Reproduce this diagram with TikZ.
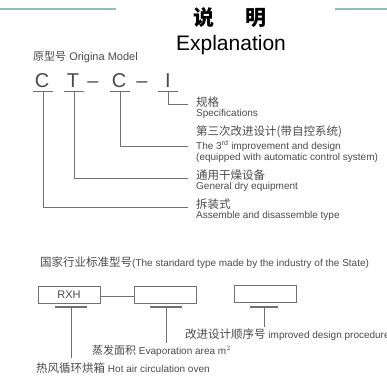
\documentclass[tikz,border=0pt]{standalone}
\usepackage{fontspec}
\setmainfont{Liberation Sans}
\newfontfamily\cjk{Noto Sans CJK SC}
\definecolor{txt}{HTML}{4A4A4A}
\definecolor{ln}{HTML}{707070}
\definecolor{teal}{HTML}{8DBDC1}
\begin{document}
\begin{tikzpicture}[x=1pt,y=-1pt,
  lbl/.style={inner sep=0pt,anchor=west,text=txt},
  zh/.style={lbl,font=\cjk\fontsize{11.5}{13}\selectfont},
  en/.style={lbl,font=\fontsize{10}{12}\selectfont},
  zhin/.style={font=\cjk\fontsize{11.5}{13}\selectfont},
  big/.style={inner sep=0pt,anchor=base,text=txt,font=\fontsize{20}{22}\selectfont},
  uline/.style={draw=ln,line width=1.3pt},
  conn/.style={draw=ln,line width=0.8pt},
  box/.style={draw=ln,line width=1pt,minimum width=62pt,minimum height=17pt,inner sep=0pt}]
\useasboundingbox (0,0) rectangle (387,375);
% top decorative lines
\draw[teal,line width=2pt] (0,9) -- (116,9);
\draw[teal,line width=2pt] (335,9) -- (387,9);
% title
\node[inner sep=0pt,text=black,font=\cjk\bfseries\fontsize{21}{24}\selectfont] (t1) at (230,18) {说\hspace{1.45em}明};
\node[inner sep=0pt,text=black,font=\fontsize{21}{24}\selectfont] (t2) at (231,45) {Explanation};
\node[lbl,font=\fontsize{11}{13}\selectfont] (om) at (33,57) {{\cjk 原型号} Origina Model};
% model letters
\node[big] (c1) at (42,87) {C};
\node[big] (tt) at (73,87) {T};
\node[big] (d1) at (93,87) {–};
\node[big] (c2) at (119,87) {C};
\node[big] (d2) at (142,87) {–};
\node[big] (ii) at (168,87) {I};
% underlines
\coordinate (u1) at (43,91.5); \coordinate (u2) at (74,91.5); \coordinate (u3) at (120,91.5); \coordinate (u4) at (168,91.5);
\draw[uline] ([xshift=-10pt]u1) -- ([xshift=10pt]u1);
\draw[uline] ([xshift=-10pt]u2) -- ([xshift=10pt]u2);
\draw[uline] ([xshift=-10pt]u3) -- ([xshift=10pt]u3);
\draw[uline] ([xshift=-10pt]u4) -- ([xshift=10pt]u4);
% labels
\node[zh] (l1a) at (196,102) {规格};
\node[en] (l1b) at (196,114) {Specifications};
\node[zh] (l2a) at (196,132) {第三次改进设计(带自控系统)};
\node[en] (l2b) at (196,146) {The 3$^{\mathrm{rd}}$ improvement and design};
\node[en] (l2c) at (196,158) {(equipped with automatic control system)};
\node[zh] (l3a) at (196,175) {通用干燥设备};
\node[en] (l3b) at (196,187) {General dry equipment};
\node[zh] (l4a) at (196,204) {拆装式};
\node[en] (l4b) at (196,216) {Assemble and disassemble type};
\coordinate (e1) at (188,104); \coordinate (e2) at (188,146); \coordinate (e3) at (188,178); \coordinate (e4) at (188,207);
\draw[conn] (u4) |- (e1);
\draw[conn] (u3) |- (e2);
\draw[conn] (u2) |- (e3);
\draw[conn] (u1) |- (e4);
% bottom section
\node[en] (std) at (40,263) {{\cjk\fontsize{11.5}{13}\selectfont 国家行业标准型号}(The standard type made by the industry of the State)};
\node[box,font=\fontsize{11}{13}\selectfont,text=txt] (b1) at (69,295) {RXH};
\node[box] (b2) at (165,295) {};
\node[box] (b3) at (265,294) {};
\draw[conn] (b1.east |- 0,296) -- (b2.west |- 0,296);
\coordinate (v1) at (71,307); \coordinate (v2) at (166,307); \coordinate (v3) at (264,307);
\draw[uline] ([xshift=-16pt]v1) -- ([xshift=16pt]v1);
\draw[uline] ([xshift=-16pt]v2) -- ([xshift=16pt]v2);
\draw[uline] ([xshift=-14pt]v3) -- ([xshift=14pt]v3);
\node[en] (bl3) at (185,335) {{\cjk\fontsize{11.5}{13}\selectfont 改进设计顺序号} improved design procedure};
\node[en] (bl2) at (92,351) {{\cjk\fontsize{11}{13}\selectfont 蒸发面积} Evaporation area m$^2$};
\node[en] (bl1) at (36,368) {{\cjk\fontsize{11.5}{13}\selectfont 热风循环烘箱} Hot air circulation oven};
\coordinate (w3) at (264,327); \coordinate (w2) at (166,343); \coordinate (w1) at (71,358);
\draw[conn] (v3) -- (w3);
\draw[conn] (v2) -- (w2);
\draw[conn] (v1) -- (w1);
\end{tikzpicture}
\end{document}
